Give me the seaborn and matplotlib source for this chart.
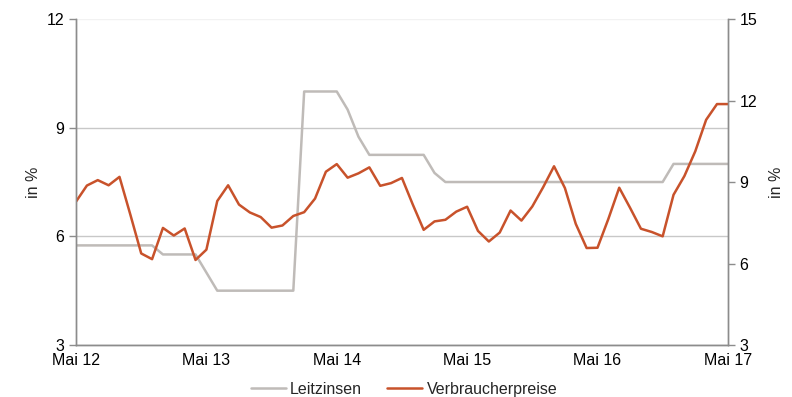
import pandas as pd
import seaborn as sns
import matplotlib.pyplot as plt
sns.set_style("white")
plt.rcParams['font.family'] = ['Liberation Sans', 'DejaVu Sans']

# Monatswerte Mai 2012 - Mai 2017
monate = list(range(61))
leitzinsen = ([5.75] * 8 + [5.5] * 4 + [5.0] + [4.5] * 8 + [10.0] * 4 + [9.5, 8.75]
              + [8.25] * 6 + [7.75] + [7.5] * 21 + [8.0] * 6)
verbraucherpreise = [8.28, 8.87, 9.07, 8.88, 9.19, 7.80, 6.37, 6.16,
                     7.31, 7.03, 7.29, 6.13, 6.51, 8.30, 8.88, 8.17, 7.88, 7.71, 7.32, 7.40,
                     7.75, 7.89, 8.39, 9.38, 9.66, 9.16, 9.32, 9.54, 8.86, 8.96, 9.15, 8.17,
                     7.24, 7.55, 7.61, 7.91, 8.09, 7.20, 6.81, 7.14, 7.95, 7.58, 8.10, 8.81,
                     9.58, 8.78, 7.46, 6.57, 6.58, 7.64, 8.79, 8.05, 7.28, 7.16, 7.00, 8.53,
                     9.22, 10.13, 11.29, 11.87, 11.87]
tick_pos = [0, 12, 24, 36, 48, 60]
tick_labels = ["Mai 12", "Mai 13", "Mai 14", "Mai 15", "Mai 16", "Mai 17"]

df = pd.DataFrame({"monat": monate, "Leitzinsen": leitzinsen,
                   "Verbraucherpreise": verbraucherpreise})

grau = "#bfbbb8"
orange = "#c8522b"
achse = "#8c8c8c"
fs = 11.5

fig, ax = plt.subplots(figsize=(7.92, 3.97), dpi=100)
fig.subplots_adjust(left=0.096, right=0.919, top=0.952, bottom=0.131)
ax2 = ax.twinx()

sns.lineplot(x="monat", y="Leitzinsen", data=df, ax=ax, color=grau, linewidth=1.8,
             label="Leitzinsen", legend=False)
sns.lineplot(x="monat", y="Verbraucherpreise", data=df, ax=ax2, color=orange, linewidth=1.8,
             label="Verbraucherpreise", legend=False)

ax.set_xlim(0, 60)
ax.set_ylim(3, 12)
ax.set_yticks([3, 6, 9, 12])
ax2.set_ylim(3, 15)
ax2.set_yticks([3, 6, 9, 12, 15])
ax.set_xticks(tick_pos)
ax.set_xticklabels(tick_labels)

ax.yaxis.grid(True, color="#c8c8c8", linewidth=1)
ax.get_ygridlines()[-1].set_color("#f2f2f2")
ax.set_axisbelow(True)
for a in (ax, ax2):
    a.spines["top"].set_visible(False)
    for s in ("left", "right", "bottom"):
        a.spines[s].set_color(achse)
        a.spines[s].set_linewidth(1)
    a.tick_params(axis="both", colors=achse, labelcolor="black", labelsize=fs,
                  length=5, width=1, direction="out")
ax.tick_params(axis="x", length=4, pad=2)
ax.set_xlabel("")
ax.set_ylabel("in %", fontsize=fs, labelpad=4)
ax2.set_ylabel("in %", fontsize=fs, labelpad=8)

h1, l1 = ax.get_legend_handles_labels()
h2, l2 = ax2.get_legend_handles_labels()
fig.legend(h1 + h2, l1 + l2, loc="lower center", ncol=2, frameon=False,
           fontsize=fs, bbox_to_anchor=(0.51, -0.035), handlelength=2.2,
           columnspacing=1.6, handletextpad=0.25)

plt.savefig("out.png", dpi=100)
